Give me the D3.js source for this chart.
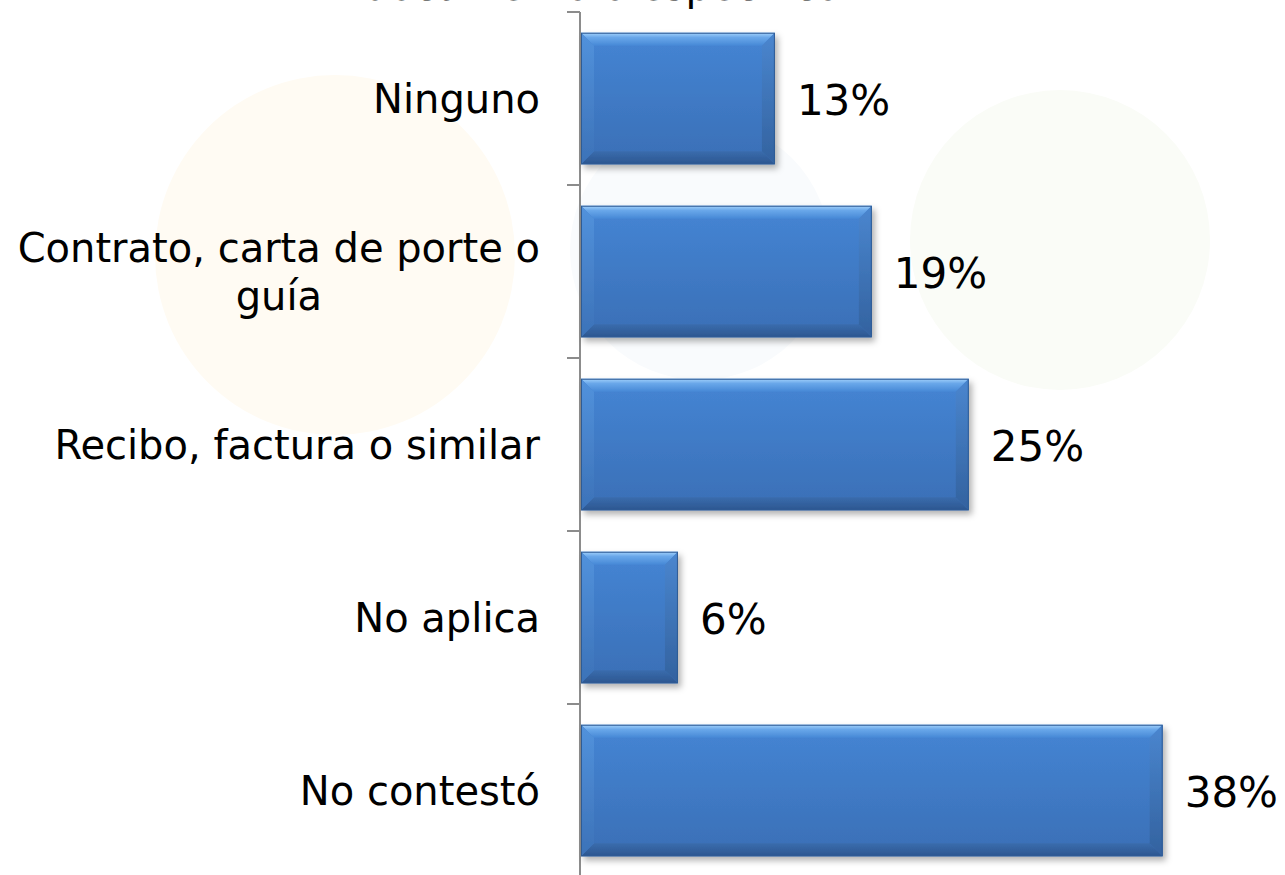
<!DOCTYPE html>
<html>
<head>
<meta charset="utf-8">
<script src="https://cdn.jsdelivr.net/npm/d3@7"></script>
<style>
  body { margin: 0; background: #fff; }
  svg { display: block; }
</style>
</head>
<body>
<div id="chart"></div>
<script>
// data (16 respondents, so values are n/16)
var categories = ["Ninguno", "Contrato, carta de porte o guía", "Recibo, factura o similar", "No aplica", "No contestó"];
var values = [12.5, 18.75, 25, 6.25, 37.5];
var titleText = "documento o específico";

var width = 1285, height = 875;

var svg = d3.select("#chart").append("svg")
    .attr("width", width)
    .attr("height", height);

var defs = svg.append("defs");

// soft shadow under the bars
var shadow = defs.append("filter").attr("id", "shadow")
    .attr("x", "-10%").attr("y", "-10%").attr("width", "130%").attr("height", "130%");
shadow.append("feDropShadow")
    .attr("dx", 3).attr("dy", 4).attr("stdDeviation", 3)
    .attr("flood-color", "#000").attr("flood-opacity", 0.3);

function grad(id, stops) {
    var g = defs.append("linearGradient").attr("id", id)
        .attr("x1", 0).attr("y1", 0).attr("x2", 0).attr("y2", 1);
    stops.forEach(function(s) {
        g.append("stop").attr("offset", s[0]).attr("stop-color", s[1]);
    });
}
grad("face", [[0, "#4585d4"], [1, "#3a6fb6"]]);
grad("topBevel", [[0, "#a3d2fb"], [0.35, "#6aa8ea"], [1, "#4688d6"]]);
grad("bottomBevel", [[0, "#3a6cad"], [1, "#2c5690"]]);
grad("leftBevel", [[0, "#5292dc"], [1, "#3c72b8"]]);
grad("rightBevel", [[0, "#4a86cf"], [1, "#33629f"]]);

// faint watermark in the background
var wm = svg.append("g").attr("class", "watermark");
wm.append("circle").attr("cx", 335).attr("cy", 255).attr("r", 180).attr("fill", "#fffbf3");
wm.append("circle").attr("cx", 700).attr("cy", 250).attr("r", 130).attr("fill", "#f9fbfd");
wm.append("circle").attr("cx", 1060).attr("cy", 240).attr("r", 150).attr("fill", "#fafcf7");

// scales
var x = d3.scaleLinear().domain([0, 45]).range([581, 1279]);
var y = d3.scaleBand().domain(categories).range([12, 877])
    .paddingInner(0.24).paddingOuter(0.12);

// title (cut off at the top of the picture, as in the original)
svg.append("text")
    .attr("x", 602).attr("y", 0)
    .attr("text-anchor", "middle")
    .style("font-family", "'DejaVu Sans', Verdana, sans-serif")
    .style("font-size", "40px")
    .attr("fill", "#000")
    .text(titleText);

// axis line + ticks on the band boundaries
var axis = svg.append("g").attr("class", "axis");
axis.append("line")
    .attr("x1", x(0) - 1).attr("x2", x(0) - 1)
    .attr("y1", y.range()[0]).attr("y2", y.range()[1])
    .attr("stroke", "#8c8c8c").attr("stroke-width", 2);
d3.range(categories.length + 1).forEach(function(i) {
    var ty = y.range()[0] + i * y.step();
    axis.append("line")
        .attr("x1", x(0) - 14).attr("x2", x(0) - 1)
        .attr("y1", ty).attr("y2", ty)
        .attr("stroke", "#8c8c8c").attr("stroke-width", 2);
});

// bars with bevel look
var bev = 13;
var bars = svg.selectAll(".bar")
    .data(categories)
    .enter().append("g")
    .attr("class", "bar")
    .attr("filter", "url(#shadow)");

bars.each(function(c, i) {
    var g = d3.select(this);
    var x0 = x(0), x1 = x(values[i]);
    var y0 = y(c), y1 = y(c) + y.bandwidth();
    var b = Math.min(bev, (x1 - x0) / 2);
    function poly(pts, fill) {
        g.append("polygon")
            .attr("points", pts.map(function(p) { return p.join(","); }).join(" "))
            .attr("fill", fill);
    }
    g.append("rect").attr("x", x0).attr("y", y0)
        .attr("width", x1 - x0).attr("height", y1 - y0)
        .attr("fill", "url(#face)");
    poly([[x0, y0], [x1, y0], [x1 - b, y0 + b], [x0 + b, y0 + b]], "url(#topBevel)");
    poly([[x0, y1], [x1, y1], [x1 - b, y1 - b], [x0 + b, y1 - b]], "url(#bottomBevel)");
    poly([[x0, y0], [x0 + b, y0 + b], [x0 + b, y1 - b], [x0, y1]], "url(#leftBevel)");
    poly([[x1, y0], [x1 - b, y0 + b], [x1 - b, y1 - b], [x1, y1]], "url(#rightBevel)");
    g.append("rect").attr("x", x0 + 0.5).attr("y", y0 + 0.5)
        .attr("width", x1 - x0 - 1).attr("height", y1 - y0 - 1)
        .attr("fill", "none").attr("stroke", "#2f5b95").attr("stroke-width", 1);
});

// value labels
svg.selectAll(".value")
    .data(categories)
    .enter().append("text")
    .attr("class", "value")
    .attr("x", function(c, i) { return x(values[i]) + 22; })
    .attr("y", function(c) { return y(c) + y.bandwidth() / 2 + 16; })
    .style("font-family", "'DejaVu Sans', Verdana, sans-serif")
    .style("font-size", "42px")
    .attr("fill", "#000")
    .text(function(c, i) { return Math.round(values[i]) + "%"; });

// category labels, wrapped and centred like the original
var labelRight = 540, maxW = 560, lineH = 48;
categories.forEach(function(c) {
    var t = svg.append("text")
        .attr("class", "cat")
        .attr("text-anchor", "middle")
        .style("font-family", "'DejaVu Sans', Verdana, sans-serif")
        .style("font-size", "40px")
        .attr("fill", "#000");
    var words = c.split(" "), lines = [], cur = [];
    var probe = t.append("tspan");
    words.forEach(function(w) {
        probe.text(cur.concat(w).join(" "));
        if (probe.node().getComputedTextLength() > maxW && cur.length) {
            lines.push(cur.join(" "));
            cur = [w];
        } else {
            cur.push(w);
        }
    });
    lines.push(cur.join(" "));
    var widest = 0;
    lines.forEach(function(l) {
        probe.text(l);
        widest = Math.max(widest, probe.node().getComputedTextLength());
    });
    probe.remove();
    var cx = labelRight - widest / 2;
    var base = y(c) + y.bandwidth() / 2 + 14 - (lines.length - 1) * lineH / 2;
    lines.forEach(function(l, k) {
        t.append("tspan").attr("x", cx).attr("y", base + k * lineH).text(l);
    });
});
</script>
</body>
</html>
